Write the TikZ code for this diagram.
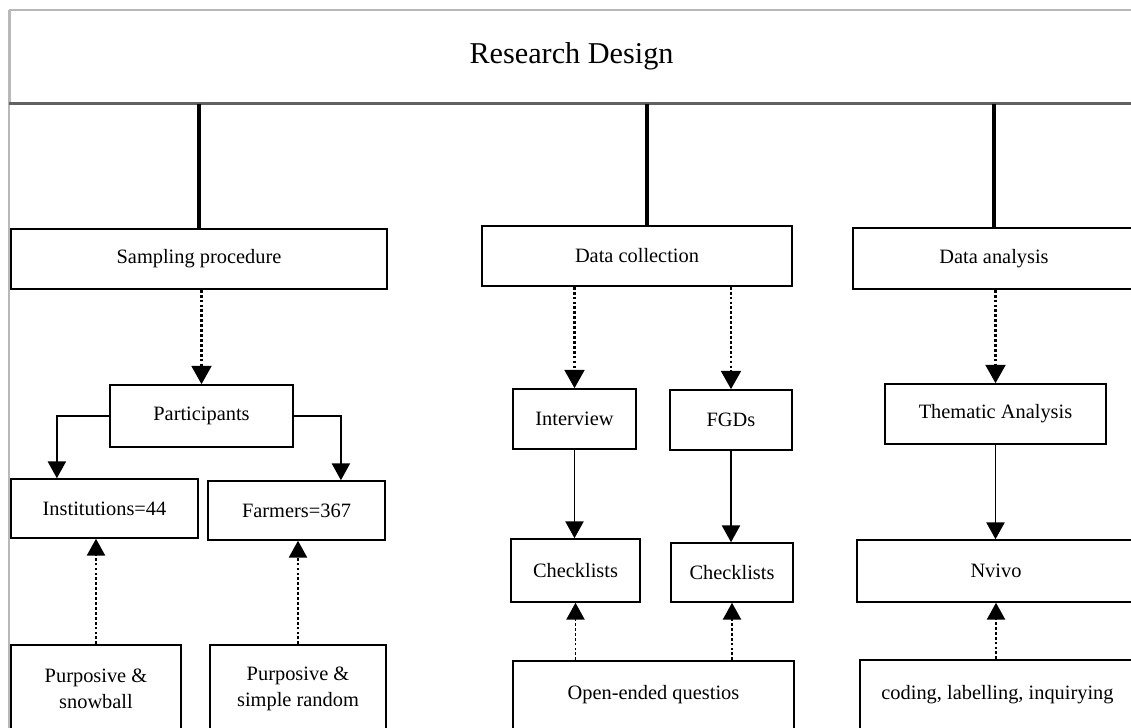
\documentclass[tikz,border=0pt]{standalone}
\usepackage{fontspec}
\setmainfont{Liberation Serif}
\usepackage{tikz}
\usetikzlibrary{arrows.meta}

\begin{document}
\begin{tikzpicture}[x  = {(0.025cm,0cm)},
                    y  = {(0cm,-0.025cm)},
                    font = \fontsize{14.5}{18.5}\selectfont]

  \useasboundingbox (0,0) rectangle (1131,728);


  % COLORS and STYLES
  \definecolor{framecolor_rd}{rgb}{ 0.72,0.72,0.72 }
  \definecolor{basecolor_rd}{rgb}{ 0.38,0.38,0.38 }
  \tikzstyle{boxstyle_rd} = [draw=black, line width=1.1pt, fill=white, align=center, inner sep=2pt]
  \tikzstyle{stemstyle_rd} = [draw=black, line width=2.2pt]
  \tikzstyle{solidarrow_rd} = [draw=black, line width=1pt, -{Triangle[length=12pt, width=13pt]}]
  \tikzstyle{dotarrow_rd} = [draw=black, line width=2pt, dash pattern=on 2pt off 1.5pt, -{Triangle[length=13pt, width=14pt]}]
  \tikzstyle{thindotarrow_rd} = [draw=black, line width=1pt, dash pattern=on 2pt off 1.5pt, -{Triangle[length=12pt, width=13pt]}]


  % FRAME
  \draw[framecolor_rd, line width=1pt] (9,10) -- (9,728);


  % TOP BOX
  \node[boxstyle_rd, draw=framecolor_rd, minimum width=28.075cm, minimum height=2.325cm,
        font=\fontsize{21.5}{26}\selectfont] (design) at (571.5,56.5) {Research Design};
  \draw[basecolor_rd, line width=2.4pt] (design.south west) -- (design.south east);


  % MAIN BOXES
  \node[boxstyle_rd, minimum width=9.4cm,  minimum height=1.5cm]   (samp) at (199,259)   {Sampling procedure};
  \node[boxstyle_rd, minimum width=7.75cm, minimum height=1.5cm]   (dcol) at (637,256)   {Data collection};
  \node[boxstyle_rd, minimum width=7.05cm, minimum height=1.525cm] (dana) at (994,258.5) {Data analysis};


  % SAMPLING
  \node[boxstyle_rd, minimum width=4.575cm, minimum height=1.55cm]  (part)  at (201.5,416)   {Participants};
  \node[boxstyle_rd, minimum width=4.675cm, minimum height=1.475cm] (inst)  at (104.5,508.5) {Institutions=44};
  \node[boxstyle_rd, minimum width=4.425cm, minimum height=1.475cm] (farm)  at (296.5,510.5) {Farmers=367};
  \node[boxstyle_rd, minimum width=4.25cm,  minimum height=2.175cm] (psnow) at (96,688.5)    {Purposive \&\\ snowball};
  \node[boxstyle_rd, minimum width=4.4cm,   minimum height=2.175cm] (prand) at (298,688.5)   {Purposive \&\\ simple random};


  % COLLECTION
  \node[boxstyle_rd, minimum width=3.075cm, minimum height=1.5cm]   (intv) at (574.5,419)   {Interview};
  \node[boxstyle_rd, minimum width=3.05cm,  minimum height=1.5cm]   (fgd)  at (731,420)     {FGDs};
  \node[boxstyle_rd, minimum width=3.225cm, minimum height=1.575cm] (chk1) at (575.5,570.5) {Checklists};
  \node[boxstyle_rd, minimum width=3.05cm,  minimum height=1.475cm] (chk2) at (732,572.5)   {Checklists};
  \node[boxstyle_rd, minimum width=7.025cm, minimum height=1.7cm]   (open) at (653.5,695)   {Open-ended questios};


  % ANALYSIS
  \node[boxstyle_rd, minimum width=5.525cm, minimum height=1.5cm]  (them)  at (995.5,414) {Thematic Analysis};
  \node[boxstyle_rd, minimum width=6.95cm,  minimum height=1.55cm] (nvivo) at (996,571)   {Nvivo};
  \node[boxstyle_rd, minimum width=6.875cm, minimum height=1.75cm] (code)  at (997.5,695) {coding, labelling, inquirying};


  % STEMS
  \coordinate (dcolstem) at ([xshift=0.25cm]dcol.north);
  \draw[stemstyle_rd] (samp.north |- design.south) -- (samp.north);
  \draw[stemstyle_rd] (dcolstem |- design.south) -- (dcolstem);
  \draw[stemstyle_rd] (dana.north |- design.south) -- (dana.north);


  % ARROWS
  \draw[dotarrow_rd] (part.north |- samp.south) -- (part.north);
  \draw[solidarrow_rd] (part.west) -| ([xshift=-1.19cm]inst.north);
  \draw[solidarrow_rd] (part.east) -| ([xshift=1.11cm]farm.north);
  \draw[thindotarrow_rd] (psnow.north) -- (psnow.north |- inst.south);
  \draw[thindotarrow_rd] (prand.north) -- (prand.north |- farm.south);

  \draw[dotarrow_rd] (intv.north |- dcol.south) -- (intv.north);
  \draw[dotarrow_rd] (fgd.north |- dcol.south) -- (fgd.north);
  \draw[solidarrow_rd] (intv.south) -- (intv.south |- chk1.north);
  \draw[solidarrow_rd] (fgd.south) -- (fgd.south |- chk2.north);
  \draw[thindotarrow_rd] (chk1.south |- open.north) -- (chk1.south);
  \draw[thindotarrow_rd] (chk2.south |- open.north) -- (chk2.south);

  \draw[dotarrow_rd] (them.north |- dana.south) -- (them.north);
  \draw[solidarrow_rd] (them.south) -- (them.south |- nvivo.north);
  \draw[thindotarrow_rd] (nvivo.south |- code.north) -- (nvivo.south);

\end{tikzpicture}
\end{document}
